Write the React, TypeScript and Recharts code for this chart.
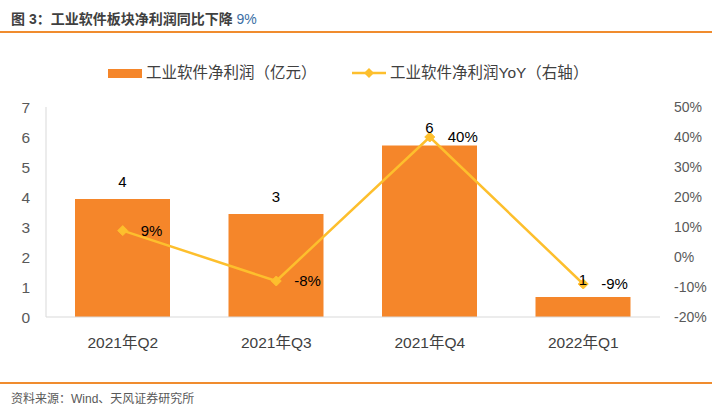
import React from 'react';
import { ComposedChart, Bar, Line, XAxis, YAxis, LabelList } from 'recharts';

const categories = ['2021年Q2', '2021年Q3', '2021年Q4', '2022年Q1'];
const profit = [3.93, 3.43, 5.72, 0.67];
const profitLabels = ['4', '3', '6', '1'];
const yoy = [8.8, -8, 40, -9];
const yoyLabels = ['9%', '-8%', '40%', '-9%'];
const leftTicks = [0, 1, 2, 3, 4, 5, 6, 7];
const rightTicks = [-20, -10, 0, 10, 20, 30, 40, 50];

const data = categories.map((c, i) => ({
  name: c,
  profit: profit[i],
  profitLabel: profitLabels[i],
  yoy: yoy[i],
  yoyLabel: yoyLabels[i],
}));

const FONT = 'Arial, "Liberation Sans", "Noto Sans CJK SC", sans-serif';
const ORANGE = '#F5862A';
const YELLOW = '#FDBF2D';

const Diamond = (props: any) => {
  const { cx, cy } = props;
  if (cx == null || cy == null) return null;
  const r = 5;
  return <path d={`M${cx},${cy - r}L${cx + r},${cy}L${cx},${cy + r}L${cx - r},${cy}Z`} fill={YELLOW} stroke={YELLOW} />;
};

const YoyLabel = (props: any) => {
  const { x, y, value } = props;
  return (
    <text x={x + 18} y={y + 1} fontSize={15} fill="#000" dominantBaseline="middle" fontFamily={FONT}>
      {value}
    </text>
  );
};

const LegendBlock = () => (
  <div style={{ position: 'absolute', left: 0, top: 63, width: 712, height: 20, fontFamily: FONT, fontSize: 15.5, color: '#404040' }}>
    <div style={{ position: 'absolute', left: 108, top: 6, width: 34, height: 9, background: ORANGE }} />
    <div style={{ position: 'absolute', left: 146, top: 0, lineHeight: '20px', whiteSpace: 'nowrap' }}>工业软件净利润（亿元）</div>
    <svg style={{ position: 'absolute', left: 350, top: 0 }} width={38} height={20}>
      <line x1={2} y1={10} x2={36} y2={10} stroke={YELLOW} strokeWidth={2.5} />
      <path d="M19,5L24,10L19,15L14,10Z" fill={YELLOW} />
    </svg>
    <div style={{ position: 'absolute', left: 390, top: 0, lineHeight: '20px', whiteSpace: 'nowrap' }}>工业软件净利润YoY（右轴）</div>
  </div>
);

export default function App() {
  return (
    <div style={{ position: 'absolute', left: 0, top: 0, width: 712, height: 409, background: '#fff', fontFamily: FONT, overflow: 'hidden' }}>
      <div style={{ position: 'absolute', left: 11, top: 8, fontSize: 14, fontWeight: 'bold', color: '#404040', whiteSpace: 'nowrap' }}>
        图 3：工业软件板块净利润同比下降 <span style={{ color: '#3a6ea5', fontWeight: 'normal' }}>9%</span>
      </div>
      <div style={{ position: 'absolute', left: 0, top: 31, width: 712, height: 2, background: '#F08C2E' }} />
      <div style={{ position: 'absolute', left: 0, top: 382, width: 712, height: 2, background: '#F08C2E' }} />
      <div style={{ position: 'absolute', left: 11, top: 389, fontSize: 12, color: '#595959', whiteSpace: 'nowrap' }}>
        资料来源：Wind、天风证券研究所
      </div>
      <LegendBlock />
      <div style={{ position: 'absolute', left: 0, top: 0 }}>
        <ComposedChart width={712} height={409} data={data} margin={{ top: 107, right: 0, bottom: 62, left: 0 }}>
          <XAxis
            dataKey="name"
            height={30}
            axisLine={{ stroke: '#d9d9d9' }}
            tickLine={false}
            tickSize={0}
            tickMargin={20}
            tick={{ fontSize: 15.5, fill: '#404040', fontFamily: FONT }}
          />
          <YAxis
            yAxisId="left"
            width={46}
            domain={[0, 7]}
            ticks={leftTicks}
            interval={0}
            axisLine={{ stroke: '#d9d9d9' }}
            tickLine={false}
            tickSize={0}
            tickMargin={16}
            tick={{ fontSize: 15.5, fill: '#595959', fontFamily: FONT }}
          />
          <YAxis
            yAxisId="right"
            orientation="right"
            width={52}
            domain={[-20, 50]}
            ticks={rightTicks}
            interval={0}
            tickFormatter={(v: number) => `${v}%`}
            axisLine={false}
            tickLine={false}
            tickSize={0}
            tickMargin={14}
            tick={{ fontSize: 14, fill: '#595959', fontFamily: FONT }}
          />
          <Bar yAxisId="left" dataKey="profit" fill={ORANGE} barSize={95} isAnimationActive={false}>
            <LabelList dataKey="profitLabel" position="top" offset={12} style={{ fontSize: 15, fill: '#000', fontFamily: FONT }} />
          </Bar>
          <Line
            yAxisId="right"
            dataKey="yoy"
            stroke={YELLOW}
            strokeWidth={2.5}
            dot={<Diamond />}
            activeDot={false}
            isAnimationActive={false}
          >
            <LabelList dataKey="yoyLabel" content={<YoyLabel />} />
          </Line>
        </ComposedChart>
      </div>
    </div>
  );
}
